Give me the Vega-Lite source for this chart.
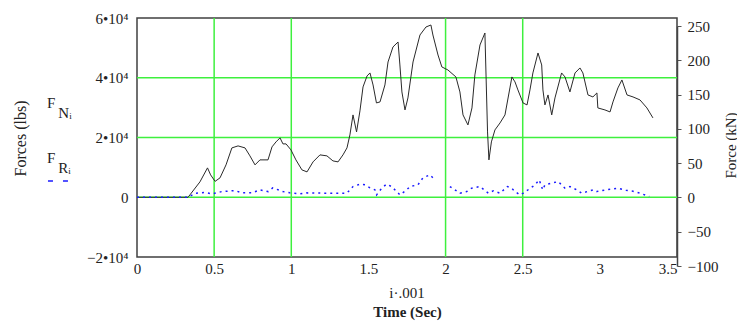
{
  "$schema": "https://vega.github.io/schema/vega-lite/v6.json",
  "width": 540,
  "height": 239,
  "autosize": {"type": "none"},
  "padding": {"left": 137, "top": 18, "right": 60, "bottom": 64},
  "background": "white",
  "config": {
    "font": "Liberation Serif",
    "view": {"stroke": "#404040", "strokeWidth": 1.5},
    "axis": {"grid": false, "labelFont": "Liberation Serif", "titleFont": "Liberation Serif", "labelColor": "#222", "titleColor": "#222", "labelFontSize": 15, "titleFontSize": 16, "titleFontWeight": "normal"}
  },
  "datasets": {
    "fn": [
      {"t": 0, "lbs": 0}, {"t": 0.331, "lbs": 0}, {"t": 0.343, "lbs": 800}, {"t": 0.408, "lbs": 5150},
      {"t": 0.457, "lbs": 9830}, {"t": 0.477, "lbs": 7490}, {"t": 0.506, "lbs": 5320}, {"t": 0.538, "lbs": 6490},
      {"t": 0.577, "lbs": 10840}, {"t": 0.615, "lbs": 16520}, {"t": 0.655, "lbs": 17190}, {"t": 0.7, "lbs": 16520},
      {"t": 0.732, "lbs": 13850}, {"t": 0.765, "lbs": 10840}, {"t": 0.797, "lbs": 12510}, {"t": 0.849, "lbs": 12510},
      {"t": 0.875, "lbs": 16860}, {"t": 0.901, "lbs": 18530}, {"t": 0.927, "lbs": 19870}, {"t": 0.946, "lbs": 17860},
      {"t": 0.966, "lbs": 17860}, {"t": 0.998, "lbs": 15850}, {"t": 1.03, "lbs": 12510}, {"t": 1.069, "lbs": 9160},
      {"t": 1.102, "lbs": 8490}, {"t": 1.141, "lbs": 11840}, {"t": 1.186, "lbs": 14180}, {"t": 1.231, "lbs": 13850},
      {"t": 1.27, "lbs": 12170}, {"t": 1.303, "lbs": 11840}, {"t": 1.335, "lbs": 14180}, {"t": 1.361, "lbs": 16520},
      {"t": 1.38, "lbs": 20870}, {"t": 1.4, "lbs": 27560}, {"t": 1.423, "lbs": 21870}, {"t": 1.445, "lbs": 28900},
      {"t": 1.465, "lbs": 36920}, {"t": 1.491, "lbs": 40600}, {"t": 1.51, "lbs": 41610}, {"t": 1.53, "lbs": 37590},
      {"t": 1.552, "lbs": 31570}, {"t": 1.575, "lbs": 31910}, {"t": 1.607, "lbs": 37590}, {"t": 1.627, "lbs": 45280},
      {"t": 1.659, "lbs": 50300}, {"t": 1.692, "lbs": 51970}, {"t": 1.704, "lbs": 44280}, {"t": 1.717, "lbs": 35250},
      {"t": 1.737, "lbs": 29230}, {"t": 1.756, "lbs": 33240}, {"t": 1.789, "lbs": 45280}, {"t": 1.834, "lbs": 54310},
      {"t": 1.873, "lbs": 56990}, {"t": 1.905, "lbs": 57660}, {"t": 1.918, "lbs": 54310}, {"t": 1.951, "lbs": 47620},
      {"t": 1.976, "lbs": 43610}, {"t": 2.015, "lbs": 42610}, {"t": 2.067, "lbs": 40270}, {"t": 2.093, "lbs": 35250},
      {"t": 2.113, "lbs": 27560}, {"t": 2.145, "lbs": 24210}, {"t": 2.171, "lbs": 29900}, {"t": 2.19, "lbs": 40940},
      {"t": 2.223, "lbs": 50970}, {"t": 2.255, "lbs": 54980}, {"t": 2.272, "lbs": 21870}, {"t": 2.281, "lbs": 12510},
      {"t": 2.297, "lbs": 18530}, {"t": 2.32, "lbs": 22540}, {"t": 2.353, "lbs": 24880}, {"t": 2.385, "lbs": 27560},
      {"t": 2.417, "lbs": 36590}, {"t": 2.43, "lbs": 40270}, {"t": 2.45, "lbs": 38600}, {"t": 2.469, "lbs": 35920},
      {"t": 2.502, "lbs": 31570}, {"t": 2.528, "lbs": 30900}, {"t": 2.547, "lbs": 35920}, {"t": 2.566, "lbs": 41610},
      {"t": 2.599, "lbs": 48290}, {"t": 2.623, "lbs": 44280}, {"t": 2.631, "lbs": 35920}, {"t": 2.644, "lbs": 30900},
      {"t": 2.664, "lbs": 34250}, {"t": 2.688, "lbs": 27560}, {"t": 2.709, "lbs": 33240}, {"t": 2.752, "lbs": 41610},
      {"t": 2.774, "lbs": 40270}, {"t": 2.806, "lbs": 35250}, {"t": 2.839, "lbs": 41610}, {"t": 2.871, "lbs": 43280},
      {"t": 2.89, "lbs": 41610}, {"t": 2.923, "lbs": 34250}, {"t": 2.955, "lbs": 33580}, {"t": 2.981, "lbs": 34920},
      {"t": 2.987, "lbs": 29900}, {"t": 3.033, "lbs": 29230}, {"t": 3.066, "lbs": 28560}, {"t": 3.085, "lbs": 31910},
      {"t": 3.117, "lbs": 36590}, {"t": 3.143, "lbs": 39260}, {"t": 3.176, "lbs": 34250}, {"t": 3.215, "lbs": 33580},
      {"t": 3.26, "lbs": 32580}, {"t": 3.305, "lbs": 29900}, {"t": 3.344, "lbs": 26560}
    ],
    "fr": [
      {"t": 0, "lbs": 0, "seg": "a"}, {"t": 0.33, "lbs": 0, "seg": "a"}, {"t": 0.38, "lbs": 1370, "seg": "a"},
      {"t": 0.44, "lbs": 1570, "seg": "a"}, {"t": 0.49, "lbs": 1140, "seg": "a"}, {"t": 0.55, "lbs": 1900, "seg": "a"},
      {"t": 0.635, "lbs": 2240, "seg": "a"}, {"t": 0.68, "lbs": 1470, "seg": "a"}, {"t": 0.745, "lbs": 1470, "seg": "a"},
      {"t": 0.797, "lbs": 2470, "seg": "a"}, {"t": 0.85, "lbs": 1900, "seg": "a"}, {"t": 0.88, "lbs": 3140, "seg": "a"},
      {"t": 0.946, "lbs": 1900, "seg": "a"}, {"t": 0.99, "lbs": 1470, "seg": "a"}, {"t": 1.056, "lbs": 1140, "seg": "a"},
      {"t": 1.1, "lbs": 1470, "seg": "a"}, {"t": 1.2, "lbs": 1370, "seg": "a"}, {"t": 1.3, "lbs": 1370, "seg": "a"},
      {"t": 1.36, "lbs": 1370, "seg": "a"}, {"t": 1.4, "lbs": 3580, "seg": "a"}, {"t": 1.445, "lbs": 4380, "seg": "a"},
      {"t": 1.478, "lbs": 4150, "seg": "a"}, {"t": 1.51, "lbs": 3140, "seg": "a"}, {"t": 1.542, "lbs": 2470, "seg": "a"},
      {"t": 1.553, "lbs": 800, "seg": "a"}, {"t": 1.586, "lbs": 3040, "seg": "a"}, {"t": 1.618, "lbs": 4380, "seg": "a"},
      {"t": 1.65, "lbs": 3580, "seg": "a"}, {"t": 1.683, "lbs": 1900, "seg": "a"}, {"t": 1.704, "lbs": 800, "seg": "a"},
      {"t": 1.748, "lbs": 2470, "seg": "a"}, {"t": 1.769, "lbs": 3580, "seg": "a"}, {"t": 1.821, "lbs": 4150, "seg": "a"},
      {"t": 1.853, "lbs": 6490, "seg": "a"}, {"t": 1.899, "lbs": 7490, "seg": "a"}, {"t": 1.931, "lbs": 5820, "seg": "a"},
      {"t": 2.028, "lbs": 3580, "seg": "b"}, {"t": 2.093, "lbs": 1370, "seg": "b"}, {"t": 2.137, "lbs": 1900, "seg": "b"},
      {"t": 2.169, "lbs": 3040, "seg": "b"}, {"t": 2.223, "lbs": 3580, "seg": "b"}, {"t": 2.277, "lbs": 1370, "seg": "b"},
      {"t": 2.31, "lbs": 2140, "seg": "b"}, {"t": 2.353, "lbs": 1370, "seg": "b"}, {"t": 2.4, "lbs": 3580, "seg": "b"},
      {"t": 2.428, "lbs": 3040, "seg": "b"}, {"t": 2.45, "lbs": 1900, "seg": "b"}, {"t": 2.482, "lbs": 800, "seg": "b"},
      {"t": 2.504, "lbs": 1370, "seg": "b"}, {"t": 2.58, "lbs": 4150, "seg": "b"}, {"t": 2.607, "lbs": 5820, "seg": "b"},
      {"t": 2.63, "lbs": 2470, "seg": "b"}, {"t": 2.644, "lbs": 4150, "seg": "b"}, {"t": 2.73, "lbs": 5250, "seg": "b"},
      {"t": 2.774, "lbs": 3040, "seg": "b"}, {"t": 2.806, "lbs": 3580, "seg": "b"}, {"t": 2.85, "lbs": 2470, "seg": "b"},
      {"t": 2.882, "lbs": 1370, "seg": "b"}, {"t": 2.957, "lbs": 2470, "seg": "b"}, {"t": 2.979, "lbs": 1900, "seg": "b"},
      {"t": 3.04, "lbs": 2470, "seg": "b"}, {"t": 3.117, "lbs": 3040, "seg": "b"}, {"t": 3.17, "lbs": 2300, "seg": "b"},
      {"t": 3.215, "lbs": 2000, "seg": "b"}, {"t": 3.26, "lbs": 1370, "seg": "b"}, {"t": 3.32, "lbs": 230, "seg": "b"}
    ],
    "gridx": [{"t": 0.5}, {"t": 1}, {"t": 2}, {"t": 2.5}],
    "gridy": [{"lbs": 0}, {"lbs": 20000}, {"lbs": 40000}],
    "legendtext": [
      {"t": -0.583, "lbs": 31570, "txt": "F"},
      {"t": -0.51, "lbs": 28230, "txt": "Nᵢ"},
      {"t": -0.583, "lbs": 13180, "txt": "F"},
      {"t": -0.51, "lbs": 9830, "txt": "Rᵢ"}
    ],
    "legendline": [{"t": -0.577, "t2": -0.447, "lbs": 5480}],
    "xnote": [{"t": 1.75, "lbs": -31970, "txt": "i·.001"}],
    "kn": [{"kN": -100}, {"kN": 250}]
  },
  "layer": [
    {
      "layer": [
        {
          "data": {"name": "gridx"},
          "mark": {"type": "rule", "color": "#3ef03e", "strokeWidth": 1.5},
          "encoding": {"x": {"field": "t", "type": "quantitative", "scale": {"domain": [0, 3.5], "nice": false, "zero": false}}}
        },
        {
          "data": {"name": "gridy"},
          "mark": {"type": "rule", "color": "#3ef03e", "strokeWidth": 1.5},
          "encoding": {"y": {"field": "lbs", "type": "quantitative", "scale": {"domain": [-20000, 60000], "nice": false, "zero": false}}}
        },
        {
          "data": {"name": "fn"},
          "mark": {"type": "line", "color": "#2a2a2a", "strokeWidth": 1},
          "encoding": {
            "x": {"field": "t", "type": "quantitative", "scale": {"domain": [0, 3.5], "nice": false, "zero": false},
              "axis": {"orient": "bottom", "values": [0, 0.5, 1, 1.5, 2, 2.5, 3, 3.5], "format": "~g", "ticks": false, "tickSize": 0, "domain": false, "labelPadding": 4, "labelFlush": false,
                "labelAlign": {"expr": "datum.value == 3.5 ? 'right' : 'center'"},
                "title": "Time (Sec)", "titleFontWeight": "bold", "titleFontSize": 15, "titleX": 270, "titleY": 54, "titleBaseline": "middle"}},
            "y": {"field": "lbs", "type": "quantitative", "scale": {"domain": [-20000, 60000], "nice": false, "zero": false},
              "axis": {"orient": "left", "values": [-20000, 0, 20000, 40000, 60000], "ticks": false, "tickSize": 0, "domain": false, "labelPadding": 9, "labelFlush": false, "labelBaseline": "middle",
                "labelExpr": "datum.value == 0 ? '0' : (datum.value < 0 ? '−' : '') + format(abs(datum.value) / 10000, 'd') + '•10⁴'",
                "title": "Forces (lbs)", "titleAngle": 270, "titleX": -117, "titleY": 120, "titleAlign": "center", "titleBaseline": "middle"}}
          }
        },
        {
          "data": {"name": "fr"},
          "mark": {"type": "line", "color": "#1a1aff", "strokeWidth": 1.5, "strokeDash": [2, 4]},
          "encoding": {
            "x": {"field": "t", "type": "quantitative", "scale": {"domain": [0, 3.5], "nice": false, "zero": false}},
            "y": {"field": "lbs", "type": "quantitative", "scale": {"domain": [-20000, 60000], "nice": false, "zero": false}},
            "detail": {"field": "seg", "type": "nominal"}
          }
        },
        {
          "data": {"name": "legendtext"},
          "mark": {"type": "text", "align": "left", "baseline": "middle", "fontSize": 15, "color": "#222", "font": "Liberation Serif"},
          "encoding": {
            "x": {"field": "t", "type": "quantitative", "scale": {"domain": [0, 3.5], "nice": false, "zero": false}},
            "y": {"field": "lbs", "type": "quantitative", "scale": {"domain": [-20000, 60000], "nice": false, "zero": false}},
            "text": {"field": "txt"}
          }
        },
        {
          "data": {"name": "legendline"},
          "mark": {"type": "rule", "color": "#1a1aff", "strokeWidth": 1.5, "strokeDash": [5, 10]},
          "encoding": {
            "x": {"field": "t", "type": "quantitative", "scale": {"domain": [0, 3.5], "nice": false, "zero": false}},
            "x2": {"field": "t2"},
            "y": {"field": "lbs", "type": "quantitative", "scale": {"domain": [-20000, 60000], "nice": false, "zero": false}}
          }
        },
        {
          "data": {"name": "xnote"},
          "mark": {"type": "text", "align": "center", "baseline": "middle", "fontSize": 15, "color": "#222", "font": "Liberation Serif"},
          "encoding": {
            "x": {"field": "t", "type": "quantitative", "scale": {"domain": [0, 3.5], "nice": false, "zero": false}},
            "y": {"field": "lbs", "type": "quantitative", "scale": {"domain": [-20000, 60000], "nice": false, "zero": false}},
            "text": {"field": "txt"}
          }
        }
      ]
    },
    {
      "data": {"name": "kn"},
      "mark": {"type": "point", "opacity": 0},
      "encoding": {
        "y": {"field": "kN", "type": "quantitative", "scale": {"domain": [-100, 250], "range": [248, 8], "nice": false, "zero": false},
          "axis": {"orient": "right", "values": [-100, -50, 0, 50, 100, 150, 200, 250], "tickSize": 4, "tickColor": "#555", "domain": true, "domainColor": "#444", "domainWidth": 1.5, "labelPadding": 6, "labelAlign": "left", "labelBaseline": "middle", "labelFlush": false,
            "title": "Force (kN)", "titleFontSize": 15, "titleAngle": 270, "titleX": 53, "titleY": 127, "titleAlign": "center", "titleBaseline": "middle"}}
      }
    }
  ],
  "resolve": {"scale": {"y": "independent"}, "axis": {"y": "independent"}}
}
